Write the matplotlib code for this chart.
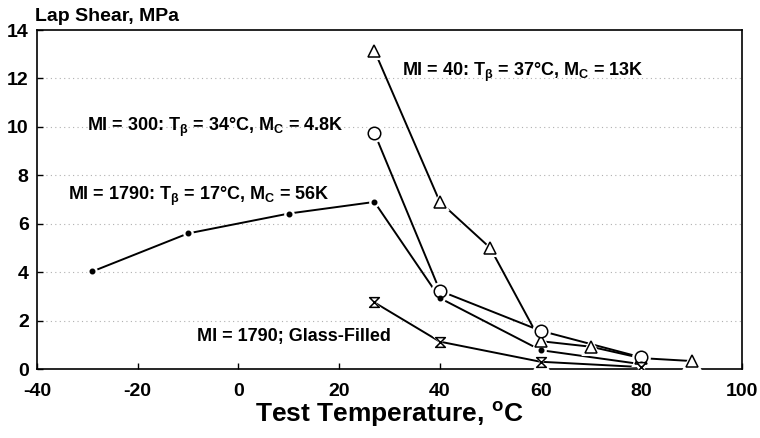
import matplotlib
matplotlib.use("Agg")
import matplotlib.pyplot as plt
from matplotlib.path import Path

plt.rcParams['font.family'] = ['Liberation Sans', 'DejaVu Sans']
plt.rcParams['font.weight'] = 'bold'
plt.rcParams['axes.unicode_minus'] = False
plt.rcParams['mathtext.fontset'] = 'custom'
plt.rcParams['mathtext.rm'] = 'Liberation Sans:bold'
plt.rcParams['mathtext.it'] = 'Liberation Sans:bold'
plt.rcParams['mathtext.bf'] = 'Liberation Sans:bold'

# Data
mi40_x = [27, 40, 50, 60, 70, 80, 90]
mi40_y = [13.15, 6.9, 5.0, 1.15, 0.92, 0.45, 0.33]
mi300_x = [27, 40, 60, 80]
mi300_y = [9.75, 3.23, 1.58, 0.48]
mi1790_x = [-29, -10, 10, 27, 40, 60, 80]
mi1790_y = [4.03, 5.6, 6.42, 6.9, 2.93, 0.78, 0.2]
glass_x = [27, 40, 60, 80]
glass_y = [2.75, 1.13, 0.3, 0.08]

x_ticks = [-40, -20, 0, 20, 40, 60, 80, 100]
y_ticks = [0, 2, 4, 6, 8, 10, 12, 14]
grid_y = [2, 4, 6, 8, 10, 12]

hourglass = Path([(-1, 1), (1, 1), (-1, -1), (1, -1), (-1, 1)],
                 [Path.MOVETO, Path.LINETO, Path.LINETO, Path.LINETO, Path.CLOSEPOLY])

fig = plt.figure(figsize=(7.6, 4.38), dpi=100)
ax = fig.add_axes([0.0487, 0.1575, 0.9276, 0.774])

for gy in grid_y:
    ax.axhline(gy, color='#b0b0b0', lw=0.8, ls=(0, (1, 3)), zorder=0)

series = [
    (mi40_x, mi40_y, '^', 9, 'white'),
    (mi300_x, mi300_y, 'o', 9, 'white'),
    (mi1790_x, mi1790_y, 'o', 3.2, 'black'),
    (glass_x, glass_y, hourglass, 7, 'white'),
]

for xs, ys, m, ms, fc in series:
    ax.plot(xs, ys, color='black', lw=1.4, zorder=2)
for xs, ys, m, ms, fc in series:
    ax.plot(xs, ys, ls='none', marker=m, ms=ms + 3, mfc='white', mec='white', mew=1.5, zorder=3)
for xs, ys, m, ms, fc in series:
    ax.plot(xs, ys, ls='none', marker=m, ms=ms, mfc=fc, mec='black', mew=1.1, zorder=4)

ax.set_xlim(-40, 100)
ax.set_ylim(0, 14)
ax.set_xticks(x_ticks)
ax.set_yticks(y_ticks)
ax.tick_params(direction='in', length=4, width=1, labelsize=14)
ax.tick_params(axis='x', pad=10)
ax.tick_params(axis='y', pad=6)
for lab in ax.get_xticklabels() + ax.get_yticklabels():
    lab.set_fontweight('bold')
for s in ax.spines.values():
    s.set_linewidth(1.2)

ax.set_xlabel('Test Temperature, $^{\\mathrm{o}}$C', fontsize=19, fontweight='bold', labelpad=0)
fig.text(0.046, 0.962, 'Lap Shear, MPa', fontsize=14, fontweight='bold', ha='left', va='center')

tk = dict(fontsize=13, fontweight='bold', va='center', ha='left')
ax.text(32.4, 12.26, 'MI = 40: T$_{\\beta}$ = 37°C, M$_{\\mathrm{C}}$ = 13K', **tk)
ax.text(-30.1, 9.99, 'MI = 300: T$_{\\beta}$ = 34°C, M$_{\\mathrm{C}}$ = 4.8K', **tk)
ax.text(-33.8, 7.13, 'MI = 1790: T$_{\\beta}$ = 17°C, M$_{\\mathrm{C}}$ = 56K', **tk)
ax.text(-8.3, 1.35, 'MI = 1790; Glass-Filled', **tk)

fig.savefig('out.png', dpi=100)
